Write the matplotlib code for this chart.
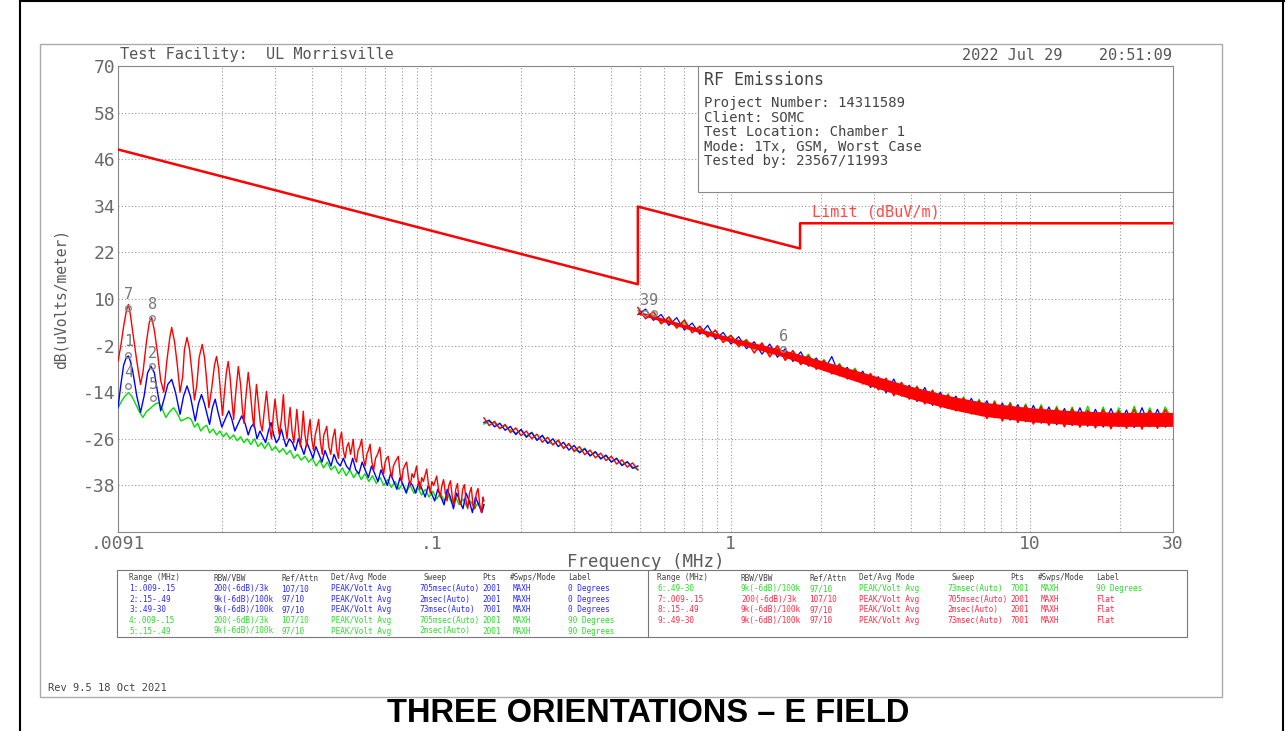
import numpy as np
import matplotlib.pyplot as plt
from matplotlib.lines import Line2D
from matplotlib.patches import Rectangle
from matplotlib.ticker import NullFormatter

W, H = 1285, 731
MONO = 'DejaVu Sans Mono'

# limit line, dBuV/m
limit_f = [0.009, 0.49, 0.49, 1.705, 1.705, 30]
limit_db = [48.5, 13.8, 33.8, 23.0, 29.5, 29.5]

# range .009-.15 MHz, (MHz, dBuV/m)
red1 = [(0.0090, -6), (0.0092, -2), (0.0094, 3), (0.0096, 7), (0.00975, 8.6), (0.0099, 6), (0.0101, 1),
        (0.0104, -6), (0.0107, -12), (0.0109, -9), (0.0112, -1), (0.01145, 4), (0.01166, 5.2), (0.0119, 2),
        (0.0122, -4), (0.0125, -11), (0.0128, -14), (0.0131, -6), (0.0134, 0), (0.0136, 2.7), (0.0139, -1),
        (0.0142, -7), (0.0145, -14), (0.0148, -10), (0.0150, -3), (0.0153, 0.1), (0.0156, -3), (0.0159, -9),
        (0.0162, -16), (0.0165, -12), (0.0168, -5), (0.0172, -1.7), (0.0175, -5), (0.0178, -11), (0.0181, -18),
        (0.0185, -13), (0.0189, -7), (0.0192, -4.8), (0.0195, -8), (0.0198, -14), (0.0201, -20), (0.0204, -14),
        (0.0207, -9), (0.0210, -6.1), (0.0213, -10), (0.0216, -16), (0.0219, -21), (0.0222, -15), (0.0227, -7.4),
        (0.0231, -12), (0.0234, -18), (0.0237, -22), (0.0240, -16), (0.0245, -8.9), (0.0249, -14), (0.0253, -20),
        (0.0256, -23), (0.0258, -17), (0.0261, -12), (0.0265, -17), (0.0269, -22), (0.0273, -24), (0.0277, -19),
        (0.0282, -13.8), (0.0286, -19), (0.0290, -24), (0.0293, -26), (0.0297, -20), (0.0301, -15.8), (0.0306, -21),
        (0.0311, -25), (0.0316, -21), (0.0321, -14.6), (0.0325, -22), (0.0330, -26), (0.0334, -22), (0.0338, -17.9),
        (0.0343, -24), (0.0348, -27), (0.0352, -23), (0.0356, -18.4), (0.0361, -24), (0.0366, -28), (0.0370, -24),
        (0.0374, -18.9), (0.0379, -25), (0.0384, -28), (0.0389, -24), (0.0394, -21), (0.0399, -26), (0.0405, -29),
        (0.0410, -25), (0.0416, -23), (0.0421, -21), (0.0427, -27), (0.0433, -30), (0.0438, -25), (0.0443, -24),
        (0.0448, -22.8), (0.0455, -28), (0.0462, -30), (0.0469, -26), (0.0477, -23.5), (0.0484, -29), (0.0490, -31),
        (0.0496, -26), (0.0502, -24.3), (0.0509, -29), (0.0516, -31), (0.0523, -28), (0.0530, -27), (0.0538, -30),
        (0.0544, -28), (0.0549, -26.1), (0.0556, -31), (0.0563, -32), (0.0570, -29), (0.0578, -28), (0.0586, -26.1),
        (0.0594, -31), (0.0602, -33), (0.0610, -30), (0.0617, -29), (0.0625, -27.4), (0.0634, -32), (0.0643, -34),
        (0.0652, -31), (0.0662, -30), (0.0674, -28.2), (0.0684, -33), (0.0694, -35), (0.0702, -32), (0.0710, -31),
        (0.0719, -30.5), (0.0729, -34), (0.0739, -36), (0.0748, -33), (0.0758, -32), (0.0777, -30.5), (0.0787, -35),
        (0.0797, -37), (0.0806, -34), (0.0815, -33), (0.0828, -32), (0.0840, -36), (0.0852, -38), (0.0863, -35),
        (0.0875, -36), (0.0894, -33), (0.0906, -37), (0.0918, -39), (0.0930, -36), (0.0942, -37), (0.0966, -33.8),
        (0.0980, -38), (0.0993, -40), (0.1005, -37), (0.1020, -38), (0.1043, -35.6), (0.1058, -39), (0.1072, -41),
        (0.1086, -38), (0.1100, -36.5), (0.1115, -40), (0.1130, -42), (0.1145, -38), (0.1160, -36.8), (0.1176, -41),
        (0.1192, -43), (0.1208, -39), (0.1224, -37.5), (0.1240, -42), (0.1257, -43), (0.1274, -39), (0.1291, -37.8),
        (0.1308, -42), (0.1325, -44), (0.1343, -40), (0.1361, -38.5), (0.1379, -43), (0.1397, -44), (0.1415, -40),
        (0.1434, -38.8), (0.1453, -43), (0.1472, -45), (0.1490, -41), (0.1500, -42)]

blue1 = [(0.0090, -18), (0.0092, -12), (0.0094, -7), (0.0096, -5), (0.00975, -4.7), (0.0099, -6), (0.0101, -9),
         (0.0104, -15), (0.0107, -19.2), (0.0110, -15), (0.0113, -9), (0.0116, -7.3), (0.0119, -9), (0.0122, -14),
         (0.0125, -18.8), (0.0128, -16), (0.0132, -12), (0.0136, -10.7), (0.0140, -14), (0.0145, -19.7), (0.0149, -15),
         (0.0153, -12.4), (0.0157, -15), (0.0163, -21.4), (0.0167, -17), (0.0171, -14.6), (0.0175, -17),
         (0.0182, -22.3), (0.0186, -18), (0.0190, -15.8), (0.0194, -19), (0.0200, -23), (0.0205, -21),
         (0.0211, -18.8), (0.0216, -21), (0.0221, -24), (0.0227, -22), (0.0233, -20.1), (0.0239, -22), (0.0245, -25),
         (0.0250, -23), (0.0256, -22), (0.0262, -26), (0.0268, -24), (0.0274, -25.5), (0.0280, -27), (0.0286, -24),
         (0.0292, -21.8), (0.0298, -25), (0.0304, -27), (0.0310, -26), (0.0316, -23.5), (0.0322, -26), (0.0328, -28),
         (0.0336, -26), (0.0344, -27), (0.0352, -29), (0.0360, -26), (0.0368, -28), (0.0376, -30), (0.0385, -27),
         (0.0394, -29), (0.0403, -31), (0.0412, -28), (0.0422, -30), (0.0432, -32), (0.0442, -29), (0.0452, -31),
         (0.0463, -33), (0.0474, -30), (0.0485, -32), (0.0497, -33), (0.0509, -31), (0.0521, -33), (0.0534, -34),
         (0.0547, -31), (0.0560, -34), (0.0574, -35), (0.0588, -32), (0.0602, -34), (0.0617, -36), (0.0632, -33),
         (0.0648, -35), (0.0664, -37), (0.0680, -34), (0.0697, -36), (0.0714, -38), (0.0732, -35), (0.0750, -37),
         (0.0768, -39), (0.0787, -36), (0.0806, -38), (0.0826, -40), (0.0846, -37), (0.0867, -38), (0.0888, -40),
         (0.0910, -37), (0.0932, -39), (0.0955, -41), (0.0978, -38), (0.1002, -40), (0.1027, -42), (0.1052, -39),
         (0.1078, -41), (0.1104, -43), (0.1131, -39), (0.1159, -41), (0.1187, -44), (0.1216, -40), (0.1246, -42),
         (0.1277, -44), (0.1308, -40), (0.1340, -42), (0.1373, -45), (0.1406, -41), (0.1441, -43), (0.1476, -45),
         (0.1500, -43)]

green1 = [(0.0090, -18), (0.0093, -16), (0.0095, -15), (0.00975, -14.1), (0.0100, -15), (0.0103, -17), (0.0106, -19),
          (0.0109, -20.5), (0.0112, -19), (0.0116, -18), (0.0120, -17), (0.0123, -16.7), (0.0126, -18),
          (0.0130, -20.5), (0.0134, -19), (0.0138, -18), (0.0142, -19.5), (0.0146, -21.4), (0.0150, -21),
          (0.0154, -20.5), (0.0158, -21), (0.0162, -23), (0.0166, -22), (0.0170, -24), (0.0174, -23), (0.0178, -22.5),
          (0.0182, -24.5), (0.0187, -23.5), (0.0192, -25), (0.0197, -24), (0.0202, -25.5), (0.0207, -24.5),
          (0.0213, -26), (0.0219, -25), (0.0225, -26.5), (0.0231, -25.5), (0.0237, -27), (0.0243, -26),
          (0.0250, -27.5), (0.0257, -26), (0.0264, -28), (0.0271, -27), (0.0278, -28.5), (0.0286, -27), (0.0294, -29),
          (0.0302, -28), (0.0311, -29.5), (0.0320, -28.5), (0.0329, -30), (0.0338, -29), (0.0348, -31), (0.0358, -30),
          (0.0368, -31.5), (0.0379, -30.5), (0.0390, -32), (0.0401, -31), (0.0413, -33), (0.0425, -31.5),
          (0.0437, -33.5), (0.0450, -32), (0.0463, -34), (0.0477, -33), (0.0491, -35), (0.0505, -33.5),
          (0.0520, -35.5), (0.0535, -34), (0.0551, -36), (0.0567, -34.5), (0.0584, -36.5), (0.0601, -35), (0.0619, -37),
          (0.0637, -35.5), (0.0656, -37.5), (0.0675, -36), (0.0695, -38), (0.0715, -36.5), (0.0736, -38.5),
          (0.0758, -37), (0.0780, -39), (0.0803, -37.5), (0.0827, -39.5), (0.0851, -38), (0.0876, -40), (0.0902, -38.5),
          (0.0929, -40.5), (0.0956, -39), (0.0984, -41), (0.1013, -39.5), (0.1043, -41.5), (0.1074, -40), (0.1105, -42),
          (0.1138, -40.5), (0.1171, -42.5), (0.1206, -41), (0.1241, -43), (0.1278, -41.5), (0.1315, -43.5),
          (0.1354, -42), (0.1394, -44), (0.1435, -42.5), (0.1477, -44.5), (0.1500, -43)]

# range .15-.49 MHz, sweep points evenly spaced on the log axis
red2 = [-20.6, -22.6, -21.5, -23.4, -22.3, -24.4, -23.2, -25.2, -24.0, -26.0, -24.8, -26.9, -25.6, -27.6, -26.3,
        -28.5, -27.2, -29.3, -28.0, -30.1, -28.9, -30.9, -29.7, -31.6, -30.5, -32.5, -31.4, -33.3, -32.2, -34.0]
blue2 = [-21.8, -21.2, -22.9, -22.0, -23.8, -22.8, -24.9, -23.6, -25.6, -24.4, -26.4, -25.1, -27.2, -26.0, -28.0,
         -26.9, -28.9, -27.7, -29.6, -28.6, -30.4, -29.3, -31.2, -30.2, -32.0, -31.0, -32.9, -31.9, -33.6, -33.0]
green2 = [-22.2, -21.6, -22.0, -23.3, -22.6, -23.8, -24.6, -23.7, -25.3, -24.3, -26.2, -25.3, -26.8, -27.4, -26.6,
          -28.3, -27.5, -28.9, -29.3, -28.4, -30.4, -29.5, -31.0, -30.4, -31.9, -31.2, -32.7, -32.0, -33.2, -34.0]

# range .49-30 MHz, sweep points evenly spaced on the log axis
red3 = [7.8, 4.9, 6.8, 3.6, 5.4, 2.5, 4.6, 1.3, 3.0, 0.2, 2.0, -1.2, 0.6, -2.3, -0.6,
        -3.9, -1.3, -4.9, -2.0, -5.8, -3.3, -6.9, -4.6, -8.1, -5.8, -9.3, -6.9, -10.6, -8.2, -11.9,
        -9.2, -13.4, -10.4, -14.9, -11.5, -15.8, -12.6, -17.0, -13.6, -17.9, -14.7, -18.8, -15.5, -19.6, -16.2,
        -20.8, -16.5, -21.4, -16.9, -21.8, -17.4, -22.2, -17.7, -22.5, -18.1, -22.9, -18.3, -23.0, -18.6, -23.2,
        -18.5, -23.4, -18.8, -23.3, -18.4, -23.5, -18.7, -23.3, -18.5, -22.0]
blue3 = [6.0, 7.4, 4.5, 6.0, 3.2, 5.2, 2.0, 3.8, 0.9, 3.2, -0.4, 1.4, -1.6, 0.3, -2.8,
         -1.0, -4.2, -1.6, -5.0, -2.8, -6.1, -3.6, -7.3, -5.2, -8.4, -4.8, -9.8, -7.6, -11.0, -8.6,
         -12.8, -10.0, -14.2, -10.6, -15.0, -12.2, -16.4, -12.8, -17.4, -14.0, -18.2, -15.0, -19.0, -15.6, -19.8,
         -16.2, -20.6, -16.8, -21.2, -17.2, -21.6, -17.4, -22.0, -17.8, -22.4, -18.2, -22.6, -18.0, -22.8, -18.4,
         -23.0, -18.2, -22.8, -18.6, -23.1, -18.0, -22.9, -18.4, -23.0, -21.0]
green3 = [7.0, 5.8, 5.9, 4.2, 4.9, 3.0, 3.9, 2.0, 2.6, 0.6, 1.8, -0.5, 0.7, -1.8, -0.4,
          -3.0, -1.6, -4.2, -2.6, -5.4, -3.4, -6.4, -4.2, -7.6, -5.6, -8.8, -6.6, -10.0, -7.8, -11.2,
          -9.6, -12.8, -10.8, -14.2, -11.6, -15.4, -12.4, -16.4, -13.4, -17.4, -14.4, -18.4, -15.2, -19.2, -15.8,
          -20.2, -16.2, -20.8, -16.6, -21.2, -17.0, -21.6, -17.2, -22.0, -17.6, -22.2, -17.8, -22.4, -17.6, -22.6,
          -17.8, -22.8, -18.0, -22.6, -17.6, -22.8, -18.0, -22.6, -17.8, -21.4]
# spread of the dense red (Flat) sweep
band_f = [0.49, 0.7, 1.0, 1.5, 2.0, 3.0, 4.0, 5.5, 7.0, 10, 14, 20, 30]
band_hi = [6.9, 3.5, 0.1, -3.1, -5.8, -9.7, -12.5, -15.1, -16.6, -18.0, -18.8, -19.2, -19.2]
band_lo = [6.1, 2.5, -1.1, -4.9, -8.2, -12.7, -15.7, -18.5, -20.2, -21.6, -22.4, -22.8, -22.8]

# markers: label, MHz, dBuV/m
markers = [('7', 0.00975, 7.8), ('8', 0.0117, 5.2), ('1', 0.00975, -4.3), ('2', 0.0117, -7.3),
           ('4', 0.00975, -12.4), ('5', 0.0118, -15.4), ('3', 0.517, 6.3), ('9', 0.554, 6.3), ('6', 1.5, -3.0)]

# legend table
rng = ['.009-.15', '.15-.49', '.49-30'] * 3
rbw = ['200(-6dB)/3k', '9k(-6dB)/100k', '9k(-6dB)/100k'] * 3
ref = ['107/10', '97/10', '97/10'] * 3
swp = ['705msec(Auto)', '2msec(Auto)', '73msec(Auto)'] * 3
pts = ['2001', '2001', '7001'] * 3
lbl = ['0 Degrees'] * 3 + ['90 Degrees'] * 3 + ['Flat'] * 3
row_col = ['#2b2bff'] * 3 + ['#2ddd2d'] * 3 + ['#ff2b45'] * 3

BLUE, GREEN, RED = '#0000ff', '#00e000', '#ff0000'


def fx(px):
    return px / W


def fy(py):
    return 1 - py / H


fig = plt.figure(figsize=(W / 100, H / 100), dpi=100)
ax = fig.add_axes([fx(118), fy(532), (1173 - 118) / W, (532 - 66) / H])

ax.plot(limit_f, limit_db, color=RED, lw=1.8, zorder=4)

for data, c in [(green1, GREEN), (blue1, BLUE), (red1, RED)]:
    f, db = np.array(data).T
    ax.plot(f, db, color=c, lw=1.0, zorder=3)

for vals, c in [(green2, GREEN), (blue2, BLUE), (red2, RED)]:
    ax.plot(np.geomspace(0.15, 0.49, len(vals)), vals, color=c, lw=1.0, zorder=3)

# blue / green sit under the red band, red trace on top
for vals, c in [(green3, GREEN), (blue3, BLUE)]:
    ax.plot(np.geomspace(0.49, 30, len(vals)), vals, color=c, lw=0.9, zorder=2.4)
ax.fill_between(band_f, band_lo, band_hi, color=RED, lw=0, zorder=2.5)
ax.plot(np.geomspace(0.49, 30, len(red3)), red3, color=RED, lw=1.1, zorder=3)

for lab, f, db in markers:
    ax.plot(f, db, marker='o', ms=4, mfc='none', mec='#888888', mew=1, zorder=5)
    ax.annotate(lab, (f, db), xytext=(0, 4), textcoords='offset points', ha='center', va='bottom',
                fontsize=11, color='#777777', family=MONO, zorder=5)

ax.text(1.87, 32.5, 'Limit (dBuV/m)', color='#ff4a4a', fontsize=11, family=MONO, va='center', ha='left')

# axes, ticks, grid
ax.set_xscale('log')
ax.set_xlim(0.009, 30)
ax.set_ylim(-50, 70)
yt = np.arange(-50, 71, 12)
ax.set_yticks(yt)
ax.set_yticklabels([''] + [str(v) for v in yt[1:]])
ax.set_xticks([0.009, 0.1, 1, 10, 30])
ax.set_xticklabels(['.0091', '.1', '1', '10', '30'])
ax.xaxis.set_minor_formatter(NullFormatter())
ax.tick_params(which='both', length=0, labelsize=13, labelcolor='#6a6a6a', pad=2)
for lab in ax.get_xticklabels() + ax.get_yticklabels():
    lab.set_family(MONO)
ax.grid(True, which='both', ls=(0, (1, 2)), color='#999999', lw=0.8)
for s in ax.spines.values():
    s.set_color('#888888')
    s.set_linewidth(0.8)
ax.set_xlabel('Frequency (MHz)', fontsize=12.5, family=MONO, color='#5a5a5a', labelpad=0)
ax.set_ylabel('dB(uVolts/meter)', fontsize=10.5, family=MONO, color='#5a5a5a', labelpad=10)

# info box
ax.add_patch(Rectangle(((698 - 118) / 1055, (532 - 192) / 466), (1173 - 698) / 1055, (192 - 66) / 466,
                       transform=ax.transAxes, fc='white', ec='#888888', lw=0.8, zorder=6))
fig.text(fx(704), fy(80), 'RF Emissions', fontsize=12, family=MONO, color='#444444', va='center')
info = ['Project Number: 14311589', 'Client: SOMC', 'Test Location: Chamber 1',
        'Mode: 1Tx, GSM, Worst Case', 'Tested by: 23567/11993']
for i, t in enumerate(info):
    fig.text(fx(704), fy(103 + 14.6 * i), t, fontsize=10, family=MONO, color='#444444', va='center')

fig.text(fx(120), fy(55), 'Test Facility:  UL Morrisville', fontsize=11, family=MONO, color='#555555', va='center')
fig.text(fx(1172), fy(55), '2022 Jul 29    20:51:09', fontsize=11, family=MONO, color='#555555',
         va='center', ha='right')

# legend table below the plot
fig.add_artist(Rectangle((fx(117), fy(637)), (1187 - 117) / W, (637 - 570) / H, transform=fig.transFigure,
                         fc='none', ec='#777777', lw=0.8))
fig.add_artist(Line2D([fx(648)] * 2, [fy(570), fy(637)], color='#777777', lw=0.8))
cols = [129, 213, 281, 331, 419, 482, 513, 568]
heads = ['Range (MHz)', 'RBW/VBW', 'Ref/Attn', 'Det/Avg Mode', 'Sweep', 'Pts', '#Swps/Mode', 'Label']
head_x = [129, 213, 281, 331, 424, 482, 510, 568]
for off in (0, 528):
    for hx, h in zip(head_x, heads):
        fig.text(fx(hx + off), fy(578), h, fontsize=5.6, family=MONO, color='#444444', va='center')
for i in range(9):
    off = 0 if i < 5 else 528
    row = i + 1 if i < 5 else i - 4
    y = fy(578 + 10.6 * row)
    cells = ['%d:%s' % (i + 1, rng[i]), rbw[i], ref[i], 'PEAK/Volt Avg', swp[i], pts[i], 'MAXH', lbl[i]]
    for cx, t in zip(cols, cells):
        fig.text(fx(cx + off), y, t, fontsize=5.6, family=MONO, color=row_col[i], va='center')

fig.text(fx(48), fy(688), 'Rev 9.5 18 Oct 2021', fontsize=7.5, family=MONO, color='#444444', va='center')

# page frame
fig.add_artist(Rectangle((fx(40), fy(697)), (1222 - 40) / W, (697 - 44) / H, transform=fig.transFigure,
                         fc='none', ec='#aaaaaa', lw=1))
fig.add_artist(Line2D([fx(20)] * 2, [0, 1], color='black', lw=1.5))
fig.add_artist(Line2D([fx(1283)] * 2, [0, 1], color='black', lw=1.5))
fig.add_artist(Line2D([fx(20), 1], [fy(1), fy(1)], color='black', lw=1.5))

fig.text(fx(648), fy(713), 'THREE ORIENTATIONS \u2013 E FIELD', fontsize=23.5, weight='bold',
         family=['Liberation Sans Narrow', 'Liberation Sans', 'DejaVu Sans'], ha='center', va='center')

fig.savefig('out.png', dpi=100)
